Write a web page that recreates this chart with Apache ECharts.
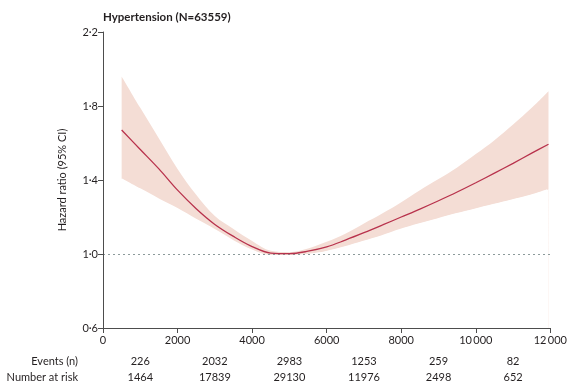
<!DOCTYPE html>
<html>
<head>
<meta charset="utf-8">
<script src="https://cdn.jsdelivr.net/npm/echarts@6/dist/echarts.min.js"></script>
<style>
  html, body { margin: 0; padding: 0; background: #fff; }
  #chart { width: 570px; height: 389px; }
</style>
</head>
<body>
<div id="chart"></div>
<script>
// Restricted cubic spline: hazard ratio by exposure with 95% CI
const xValues = [500, 1000, 1500, 2000, 2500, 3000, 3500, 4000, 4500, 5000, 5500, 6000,
                 6500, 7000, 7500, 8000, 8500, 9000, 9500, 10000, 10500, 11000, 11500, 11950];
const hrValues = [1.67, 1.565, 1.46, 1.345, 1.245, 1.16, 1.095, 1.04, 1.005, 1.002, 1.015, 1.038,
                  1.075, 1.115, 1.157, 1.20, 1.243, 1.288, 1.335, 1.385, 1.437, 1.49, 1.545, 1.593];
const upperValues = [1.96, 1.79, 1.625, 1.46, 1.32, 1.205, 1.135, 1.07, 1.017, 1.01, 1.03, 1.066,
                     1.11, 1.165, 1.22, 1.28, 1.345, 1.405, 1.468, 1.54, 1.615, 1.70, 1.79, 1.88];
const lowerValues = [1.41, 1.355, 1.30, 1.248, 1.19, 1.135, 1.075, 1.025, 0.995, 0.994, 1.0, 1.015,
                     1.04, 1.07, 1.10, 1.135, 1.165, 1.192, 1.22, 1.245, 1.27, 1.295, 1.32, 1.35];

// Risk table, one entry per 2000-unit interval
const tableMidpoints = [1000, 3000, 5000, 7000, 9000, 11000];
const eventsRow = ['226', '2032', '2983', '1253', '259', '82'];
const atRiskRow = ['1464', '17839', '29130', '11976', '2498', '652'];

const yTicks = ['0·6', '1·0', '1·4', '1·8', '2·2'];

const FONT = 'Lato, "Open Sans", sans-serif';
const TEXT = '#231f20';
const BAND = '#f4ddd5';
const SMOOTH = 0.35;

const chart = echarts.init(document.getElementById('chart'), null, { renderer: 'canvas' });

const pairs = vals => xValues.map((x, i) => [x, vals[i]]);

// Thousands above 9999 get a thin space, as in the journal style
const fmtX = v => (v >= 10000 ? String(v).slice(0, -3) + '\u2009' + String(v).slice(-3) : String(v));

chart.setOption({
  animation: false,
  title: {
    text: 'Hypertension (N=63559)',
    left: 98,
    top: 6,
    textStyle: { fontFamily: FONT, fontSize: 11.5, fontWeight: 'bold', color: TEXT }
  },
  grid: { left: 103, right: 17, top: 32, bottom: 61 },
  xAxis: {
    type: 'value',
    min: 0,
    max: 12000,
    interval: 2000,
    z: 6,
    axisLine: { lineStyle: { color: '#4d4d4d', width: 1 } },
    axisTick: { show: true, length: 5, lineStyle: { color: '#4d4d4d' } },
    axisLabel: { fontFamily: FONT, fontSize: 11, color: TEXT, margin: 7, formatter: fmtX },
    splitLine: { show: false }
  },
  yAxis: {
    type: 'value',
    min: 0.6,
    max: 2.2,
    interval: 0.4,
    z: 6,
    name: 'Hazard ratio (95% CI)',
    nameLocation: 'middle',
    nameGap: 35,
    nameTextStyle: { fontFamily: FONT, fontSize: 11, color: TEXT },
    axisLine: { show: true, lineStyle: { color: '#4d4d4d', width: 1 } },
    axisTick: { show: true, length: 5, lineStyle: { color: '#4d4d4d' } },
    axisLabel: {
      fontFamily: FONT, fontSize: 11, color: TEXT, margin: 5,
      formatter: v => yTicks[Math.round((v - 0.6) / 0.4)]
    },
    splitLine: { show: false }
  },
  series: [
    {
      // upper CI bound, filled down to the axis
      name: 'upper',
      type: 'line',
      data: pairs(upperValues),
      smooth: SMOOTH,
      symbol: 'none',
      lineStyle: { width: 0, opacity: 0 },
      areaStyle: { color: BAND, opacity: 1, origin: 'start' },
      silent: true,
      z: 1
    },
    {
      // lower CI bound, clears the fill below it (the offset copy hides the anti-aliased left edge)
      name: 'lower',
      type: 'line',
      data: pairs(lowerValues),
      smooth: SMOOTH,
      symbol: 'none',
      lineStyle: { width: 0, opacity: 0 },
      areaStyle: {
        color: '#ffffff', opacity: 1, origin: 'start',
        shadowColor: '#ffffff', shadowBlur: 0, shadowOffsetX: -1.5, shadowOffsetY: 0
      },
      silent: true,
      z: 2
    },
    {
      name: 'HR',
      type: 'line',
      data: pairs(hrValues),
      smooth: SMOOTH,
      symbol: 'none',
      lineStyle: { color: '#b8324c', width: 1.3 },
      z: 5,
      markLine: {
        silent: true,
        symbol: 'none',
        label: { show: false },
        lineStyle: { color: '#8c9a9a', type: [2, 3], width: 1 },
        data: [{ yAxis: 1.0 }]
      }
    }
  ]
});

// Risk table below the x axis, placed through the x scale
function buildTable() {
  const elements = [];
  const rowY = [361, 377];
  const rowLabels = ['Events (n)', 'Number at risk'];
  const rows = [eventsRow, atRiskRow];
  rowLabels.forEach((label, r) => {
    elements.push({
      type: 'text',
      x: 78,
      y: rowY[r],
      style: {
        text: label, fill: TEXT, font: '11px ' + FONT,
        textAlign: 'right', textVerticalAlign: 'middle'
      }
    });
    rows[r].forEach((val, i) => {
      const px = chart.convertToPixel({ xAxisIndex: 0 }, tableMidpoints[i]);
      elements.push({
        type: 'text',
        x: px,
        y: rowY[r],
        style: {
          text: val, fill: TEXT, font: '11px ' + FONT,
          textAlign: 'center', textVerticalAlign: 'middle'
        }
      });
    });
  });
  chart.setOption({ graphic: { elements } });
}
buildTable();
</script>
</body>
</html>
